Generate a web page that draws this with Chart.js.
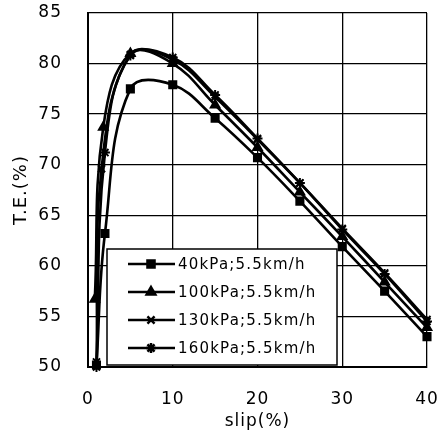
<!DOCTYPE html>
<html>
<head>
<meta charset="utf-8">
<script src="https://cdn.jsdelivr.net/npm/chart.js@4.4.1/dist/chart.umd.min.js"></script>
<style>
  html, body { margin: 0; padding: 0; background: #fff; }
  #wrap { width: 443px; height: 432px; position: relative; }
</style>
</head>
<body>
<div id="wrap"><canvas id="teChart" width="443" height="432"></canvas></div>
<script>
// ===============================
// DATA
// ===============================
const seriesLabels = ['40kPa;5.5km/h', '100kPa;5.5km/h', '130kPa;5.5km/h', '160kPa;5.5km/h'];
const pointStyles = ['rect', 'triangle', 'crossRot', 'star'];

const slip40 = [1, 2, 5, 10, 15, 20, 25, 30, 35, 40];
const te40 = [50.2, 63.2, 77.5, 77.9, 74.6, 70.7, 66.4, 61.9, 57.5, 53.0];

const slip100 = [0.8, 1.8, 5, 10, 15, 20, 25, 30, 35, 40];
const te100 = [56.7, 73.7, 81.0, 80.0, 75.9, 71.7, 67.3, 62.9, 58.4, 53.9];

const slip130 = [1, 1.6, 5, 10, 15, 20, 25, 30, 35, 40];
const te130 = [50.5, 69.6, 80.9, 80.4, 76.7, 72.5, 68.2, 63.7, 59.3, 54.7];

const slip160 = [1, 2, 5, 10, 15, 20, 25, 30, 35, 40];
const te160 = [50.0, 71.2, 80.8, 80.6, 76.9, 72.6, 68.2, 63.6, 59.2, 54.5];

const xTicks = [0, 10, 20, 30, 40];
const yTicks = [50, 55, 60, 65, 70, 75, 80, 85];

const FONT = '"DejaVu Sans", Arial, sans-serif';

// ===============================
// UTILS
// ===============================
const toPoints = (xs, ys) => xs.map((x, i) => ({ x: x, y: ys[i] }));

const makeSet = (idx, xs, ys) => ({
    label: seriesLabels[idx],
    data: toPoints(xs, ys),
    borderColor: '#000',
    backgroundColor: '#000',
    borderWidth: 2.6,
    pointStyle: pointStyles[idx],
    pointRadius: idx === 0 ? 5 : 5,
    pointBorderWidth: 2,
    pointBorderColor: '#000',
    pointBackgroundColor: '#000',
    tension: 0.4,
    clip: 8
});

// wider letter spacing for all text, like the scanned original
const spacing = {
    id: 'spacing',
    beforeDraw(chart) { chart.ctx.letterSpacing = '1px'; }
};

// legend drawn inside the plot, like the original
const insideLegend = {
    id: 'insideLegend',
    afterDatasetsDraw(chart) {
        const ctx = chart.ctx;
        const x0 = 107, y0 = 249, w = 230, h = 116;
        ctx.save();
        ctx.fillStyle = '#fff';
        ctx.fillRect(x0, y0, w, h);
        ctx.strokeStyle = '#000';
        ctx.lineWidth = 1.5;
        ctx.strokeRect(x0, y0, w, h);
        ctx.font = '15px ' + FONT;
        ctx.letterSpacing = '1.2px';
        ctx.textBaseline = 'middle';
        chart.data.datasets.forEach((ds, i) => {
            const y = 264 + i * 28;
            ctx.beginPath();
            ctx.lineWidth = 2.5;
            ctx.moveTo(128, y);
            ctx.lineTo(175, y);
            ctx.stroke();
            ctx.fillStyle = '#000';
            Chart.helpers.drawPoint(ctx, {
                pointStyle: ds.pointStyle, radius: 5, borderWidth: 2, rotation: 0
            }, 151, y);
            ctx.fillStyle = '#000';
            ctx.fillText(ds.label, 178, y + 1);
        });
        ctx.restore();
    }
};

// ===============================
// INIT
// ===============================
const ctx = document.getElementById('teChart').getContext('2d');
new Chart(ctx, {
    type: 'line',
    data: {
        datasets: [
            makeSet(0, slip40, te40),
            makeSet(1, slip100, te100),
            makeSet(2, slip130, te130),
            makeSet(3, slip160, te160)
        ]
    },
    options: {
        responsive: false,
        animation: false,
        layout: { padding: { top: 13, right: 16, left: 0, bottom: 0 } },
        plugins: { legend: { display: false }, tooltip: { enabled: false } },
        scales: {
            x: {
                type: 'linear', min: 0, max: 40,
                afterBuildTicks: (s) => { s.ticks = xTicks.map(v => ({ value: v })); },
                afterFit: (s) => { s.height = 65; s.paddingLeft = 0; s.paddingRight = 0; },
                grid: { color: '#000', lineWidth: 1.3, drawTicks: false },
                border: { color: '#000', width: 2 },
                ticks: { color: '#000', font: { family: FONT, size: 17 }, padding: 22, maxRotation: 0 },
                title: { display: true, text: 'slip(%)', color: '#000', font: { family: FONT, size: 17 }, padding: { top: -9, bottom: 0 } }
            },
            y: {
                type: 'linear', min: 50, max: 85,
                afterBuildTicks: (s) => { s.ticks = yTicks.map(v => ({ value: v })); },
                afterFit: (s) => { s.width = 88; s.paddingTop = 0; s.paddingBottom = 0; },
                grid: { color: '#000', lineWidth: 1.3, drawTicks: false },
                border: { color: '#000', width: 2 },
                ticks: { color: '#000', font: { family: FONT, size: 17 }, padding: 26 },
                title: { display: true, text: 'T.E.(%)', color: '#000', font: { family: FONT, size: 18 }, padding: { top: 11, bottom: 0 } }
            }
        }
    },
    plugins: [spacing, insideLegend]
});
</script>
</body>
</html>
